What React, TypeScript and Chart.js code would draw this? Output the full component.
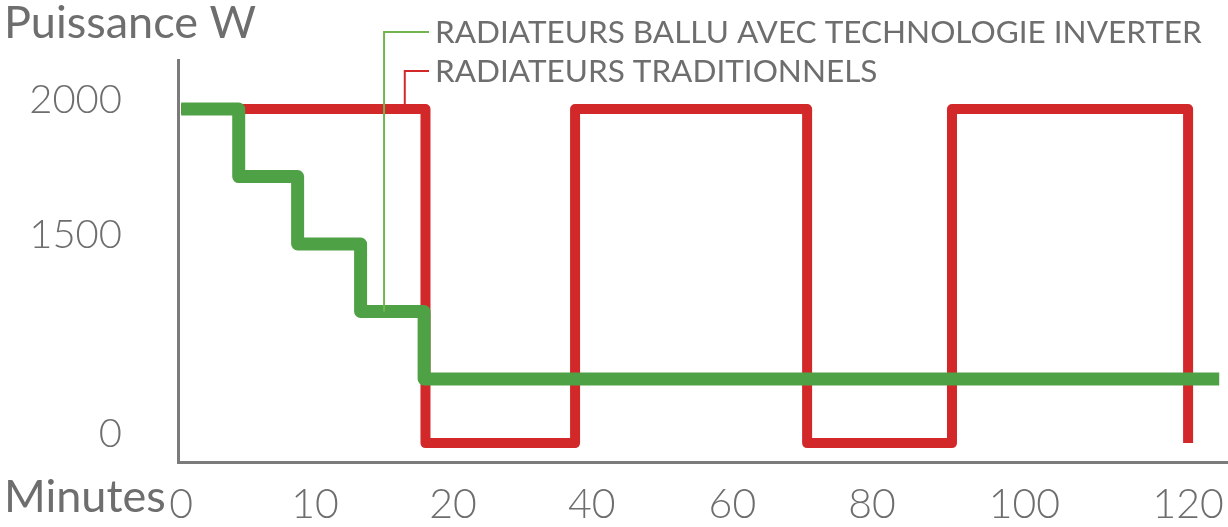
import React, { useEffect, useRef } from 'react';
import { Chart, LinearScale, registerables } from 'chart.js';

// minutes when the power changes, power in W
const minutes = [0, 10, 20, 40, 60, 80, 100, 120];
const powerTicks = [0, 1500, 2000];

const inverterTimes = [0, 4.3, 8.7, 13.3, 17.9, 123.8];
const inverterPower = [2000, 1750, 1500, 1250, 1000, 1000];

const classicTimes = [0, 18, 37.6, 70.7, 90.5, 120];
const classicPower = [2000, 0, 2000, 0, 2000, 0];

const seriesLabels = [
    'RADIATEURS BALLU AVEC TECHNOLOGIE INVERTER',
    'RADIATEURS TRADITIONNELS',
];
// where each callout touches its line (minutes, W)
const calloutAnchors = [
    [15, 1250],
    [16.5, 2000],
];

const GREEN = '#4ea144';
const GREEN_LIGHT = '#72b550';
const RED = '#d2282a';
const AXIS = '#7b7b7b';
const TEXT = '#6e6e6e';

// the drawing is not to scale: each axis is stretched piece by piece
// [value, position along the axis 0..1]
const knots: Record<string, number[][]> = {
    x: [[0, 0.003], [10, 0.1305], [20, 0.262], [40, 0.394], [60, 0.528], [80, 0.661], [100, 0.806], [120, 0.962]],
    y: [[0, 0.047], [1000, 0.2065], [2000, 0.878]],
};

const interp = (v: number, pts: number[][], a: number, b: number) => {
    let i = 0;
    while (i < pts.length - 2 && v > pts[i + 1][a]) i++;
    const [p, q] = [pts[i], pts[i + 1]];
    return p[b] + ((v - p[a]) * (q[b] - p[b])) / (q[a] - p[a]);
};

class PiecewiseScale extends LinearScale {
    static id = 'piecewise';
    static defaults = LinearScale.defaults;

    getPixelForValue(value: number) {
        if (value === null || isNaN(value)) return NaN;
        return this.getPixelForDecimal(interp(value, knots[this.id], 0, 1));
    }

    getValueForPixel(pixel: number) {
        return interp(this.getDecimalForPixel(pixel), knots[this.id], 1, 0);
    }
}

Chart.register(...registerables, PiecewiseScale);

const textPlugin = {
    id: 'texts',
    afterDatasetsDraw(chart: Chart) {
        const { ctx } = chart;
        const x = chart.scales.x;
        const y = chart.scales.y;
        ctx.save();

        // callouts
        const labelX = 435;
        const rows = [43, 82];
        ctx.font = '400 31.5px Lato';
        ctx.fillStyle = TEXT;
        ctx.textBaseline = 'alphabetic';
        seriesLabels.forEach((label, i) => {
            const ax = x.getPixelForValue(calloutAnchors[i][0]);
            const ay = y.getPixelForValue(calloutAnchors[i][1]);
            const ly = rows[i] - 11;
            ctx.strokeStyle = i === 0 ? GREEN_LIGHT : RED;
            ctx.lineWidth = 2;
            ctx.beginPath();
            ctx.moveTo(ax, ay);
            ctx.lineTo(ax, ly);
            ctx.lineTo(labelX - 6, ly);
            ctx.stroke();
            ctx.fillText(label, labelX, rows[i]);
        });

        // axis titles
        ctx.font = '400 45px Lato';
        ctx.fillText('Puissance W', 4, 38);
        ctx.fillText('Minutes', 4, 512);
        ctx.restore();
    },
};

const App: React.FC = () => {
    const canvasRef = useRef<HTMLCanvasElement>(null);

    useEffect(() => {
        if (!canvasRef.current) return;
        const chart = new Chart(canvasRef.current, {
            type: 'line',
            data: {
                datasets: [
                    {
                        label: seriesLabels[0],
                        data: inverterTimes.map((t, i) => ({ x: t, y: inverterPower[i] })),
                        borderColor: GREEN,
                        borderWidth: 13,
                        borderJoinStyle: 'round',
                        stepped: 'before',
                        pointRadius: 0,
                        order: 0,
                    },
                    {
                        label: seriesLabels[1],
                        data: classicTimes.map((t, i) => ({ x: t, y: classicPower[i] })),
                        borderColor: RED,
                        borderWidth: 10,
                        borderJoinStyle: 'round',
                        stepped: 'before',
                        pointRadius: 0,
                        order: 1,
                    },
                ],
            },
            options: {
                animation: false,
                responsive: true,
                maintainAspectRatio: false,
                layout: { padding: { top: 60, left: 0, right: 0, bottom: 0 } },
                scales: {
                    x: {
                        type: 'piecewise' as any,
                        grid: { display: false },
                        border: { display: true, color: AXIS, width: 3 },
                        afterBuildTicks: (axis: any) => {
                            axis.ticks = minutes.map((v) => ({ value: v }));
                        },
                        afterFit: (axis: any) => {
                            axis.height = 65;
                            axis.paddingLeft = 0;
                            axis.paddingRight = 0;
                        },
                        ticks: {
                            autoSkip: false,
                            maxRotation: 0,
                            padding: 10,
                            color: TEXT,
                            font: { family: 'Lato', size: 41, weight: '300' },
                            callback: (v: any) => String(v),
                        },
                    },
                    y: {
                        type: 'piecewise' as any,
                        grid: { display: false },
                        border: { display: true, color: AXIS, width: 3 },
                        afterBuildTicks: (axis: any) => {
                            axis.ticks = powerTicks.map((v) => ({ value: v }));
                        },
                        afterFit: (axis: any) => {
                            axis.width = 178;
                            axis.paddingTop = 0;
                            axis.paddingBottom = 0;
                        },
                        ticks: {
                            padding: 48,
                            labelOffset: -9,
                            color: TEXT,
                            font: { family: 'Lato', size: 40, weight: '300' },
                            callback: (v: any) => String(v),
                        },
                    },
                },
                plugins: {
                    legend: { display: false },
                    tooltip: { enabled: false },
                },
            },
            plugins: [textPlugin],
        });
        return () => chart.destroy();
    }, []);

    return (
        <div style={{ position: 'fixed', left: 0, top: 0, width: 1228, height: 527, background: '#fff' }}>
            <canvas ref={canvasRef}></canvas>
        </div>
    );
};

export default App;
